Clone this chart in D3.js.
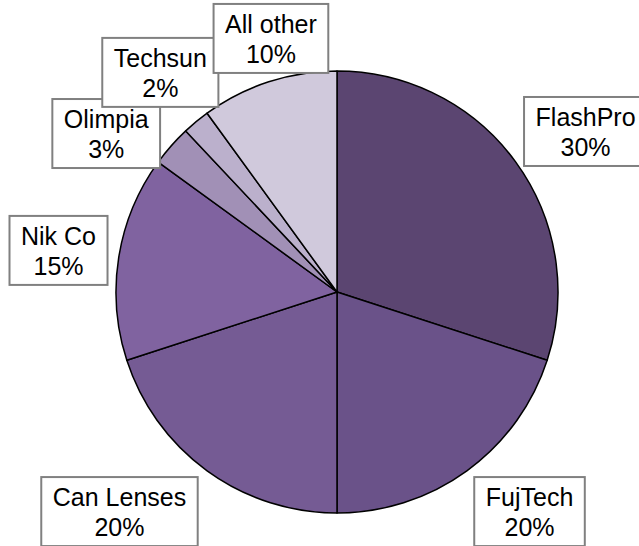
<!DOCTYPE html>
<html>
<head>
<meta charset="utf-8">
<script src="https://cdn.jsdelivr.net/npm/d3@7"></script>
<style>
  html, body { margin: 0; padding: 0; background: #ffffff; }
  svg { display: block; }
</style>
</head>
<body>
<svg id="chart" width="639" height="546"></svg>
<script>
const categories = ["FlashPro", "FujTech", "Can Lenses", "Nik Co", "Olimpia", "Techsun", "All other"];
const shares = [30, 20, 20, 15, 3, 2, 10];
const percentLabels = ["30%", "20%", "20%", "15%", "3%", "2%", "10%"];
const colors = ["#5B4571", "#6A5289", "#755B94", "#8063A0", "#A190B6", "#BBB0CC", "#D0C9DC"];
// layout nudges for label boxes (best-fit placement)
const labelNudge = [[18, 7], [25, -11], [-50, -11], [3, 3], [-17, 30], [5, 0], [22, 17.5]];

const data = categories.map((c, i) => ({ name: c, value: shares[i], pct: percentLabels[i], color: colors[i], nudge: labelNudge[i] }));

const svg = d3.select("#chart");
const cx = 337, cy = 292, radius = 221;
const g = svg.append("g").attr("transform", `translate(${cx},${cy})`);

const pie = d3.pie().value(d => d.value).sort(null);
const arc = d3.arc().innerRadius(0).outerRadius(radius);
const labelArc = d3.arc().innerRadius(285).outerRadius(285);

const arcs = pie(data);

g.selectAll("path.slice")
  .data(arcs)
  .enter().append("path")
  .attr("class", "slice")
  .attr("d", arc)
  .attr("fill", d => d.data.color)
  .attr("stroke", "#000000")
  .attr("stroke-width", 1.5)
  .attr("stroke-linejoin", "round");

const fontSize = 25, lineH = 30, padX = 11.5, boxH = 69;

const labels = g.selectAll("g.lbl")
  .data(arcs)
  .enter().append("g")
  .attr("class", "lbl")
  .attr("transform", d => {
    const [x, y] = labelArc.centroid(d);
    return `translate(${x + d.data.nudge[0]},${y + d.data.nudge[1]})`;
  });

labels.each(function(d) {
  const sel = d3.select(this);
  const rect = sel.append("rect");
  const t1 = sel.append("text")
    .attr("text-anchor", "middle")
    .attr("font-family", "'Liberation Sans', Arial, sans-serif")
    .attr("font-size", fontSize)
    .attr("fill", "#000000")
    .attr("x", 0).attr("y", -boxH / 2 + 28.7)
    .text(d.data.name);
  const t2 = sel.append("text")
    .attr("text-anchor", "middle")
    .attr("font-family", "'Liberation Sans', Arial, sans-serif")
    .attr("font-size", fontSize)
    .attr("fill", "#000000")
    .attr("x", 0).attr("y", -boxH / 2 + 28.7 + lineH)
    .text(d.data.pct);
  const w = Math.max(t1.node().getComputedTextLength(), t2.node().getComputedTextLength()) + 2 * padX;
  rect.attr("x", -w / 2).attr("y", -boxH / 2)
    .attr("width", w).attr("height", boxH)
    .attr("fill", "#ffffff")
    .attr("stroke", "#808080")
    .attr("stroke-width", 2);
});
</script>
</body>
</html>
